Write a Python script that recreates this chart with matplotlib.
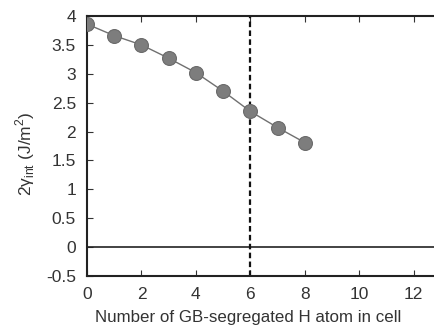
import matplotlib
matplotlib.use("Agg")
import matplotlib.pyplot as plt

n_h = [0, 1, 2, 3, 4, 5, 6, 7, 8]
gamma_int = [3.86, 3.66, 3.50, 3.27, 3.02, 2.70, 2.35, 2.07, 1.81]
x_ticks = [0, 2, 4, 6, 8, 10, 12]
y_ticks = [-0.5, 0, 0.5, 1, 1.5, 2, 2.5, 3, 3.5, 4]
y_ticklabels = ["-0.5", "0", "0.5", "1", "1.5", "2", "2.5", "3", "3.5", "4"]

plt.rcParams['font.family'] = ['Liberation Sans', 'DejaVu Sans']
plt.rcParams['mathtext.fontset'] = 'custom'
plt.rcParams['mathtext.rm'] = 'Liberation Sans'

fig = plt.figure(figsize=(4.34, 3.27), dpi=100)
ax = fig.add_axes([0.2005, 0.156, 0.7995, 0.795])

ax.plot(n_h, gamma_int, color='#707070', lw=1.0, marker='o', ms=10,
        mfc='#7d7d7d', mec='#6a6a6a', mew=0.8, zorder=3)
ax.axhline(0, color='#222222', lw=1.2)
ax.axvline(6, color='#111111', lw=1.6, ls=(0, (2.5, 1.5)))

ax.set_xlim(0, 12.75)
ax.set_ylim(-0.5, 4)
ax.set_xticks(x_ticks)
ax.set_yticks(y_ticks)
ax.set_yticklabels(y_ticklabels)
ax.tick_params(direction='in', top=True, right=False, length=4, width=0.8,
               labelsize=12.5, colors='#333333', labelcolor='#333333')
ax.tick_params(axis='x', pad=8)
ax.tick_params(axis='y', pad=8)
for s in ['left', 'bottom', 'top']:
    ax.spines[s].set_linewidth(1.5)
    ax.spines[s].set_color('#222222')
ax.spines['right'].set_visible(False)

ax.set_xlabel('Number of GB-segregated H atom in cell', fontsize=12.2, color='#333333')
ax.xaxis.set_label_coords(0.465, -0.13)
ax.set_ylabel(r'2γ$_{\mathrm{int}}$ (J/m$^{2}$)', fontsize=12.5, color='#333333')
ax.yaxis.set_label_coords(-0.145, 0.47)

fig.savefig('out.png', dpi=100)
